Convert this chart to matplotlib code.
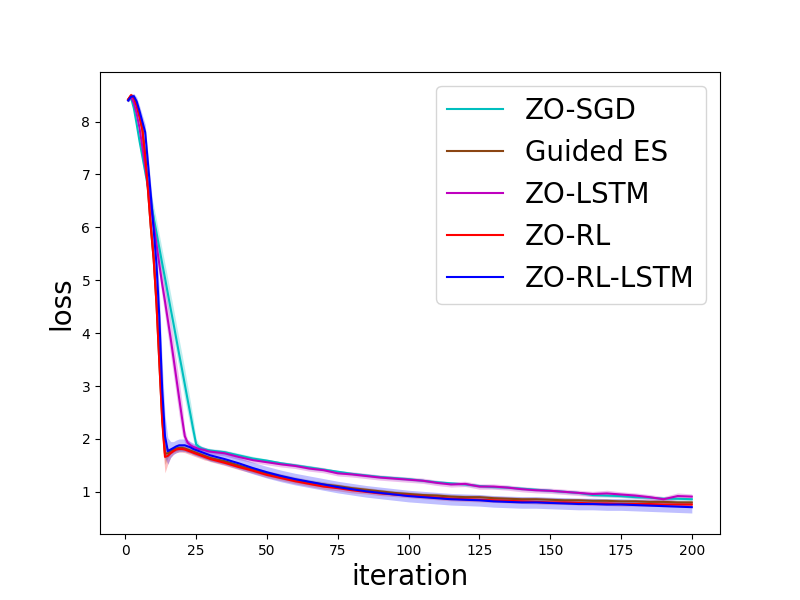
import matplotlib
matplotlib.use("Agg")
import matplotlib.pyplot as plt

# iteration grid: every step during the drop, every 5 afterwards
iters = list(range(1, 31)) + list(range(35, 201, 5))

zo_sgd = [8.40, 8.45, 8.25, 7.95, 7.63, 7.34, 7.05, 6.76, 6.47, 6.18,
          5.90, 5.61, 5.32, 5.04, 4.75, 4.46, 4.18, 3.89, 3.60, 3.32,
          3.03, 2.74, 2.46, 2.17, 1.90, 1.85, 1.82, 1.80, 1.79, 1.78,
          1.75, 1.69, 1.63, 1.59, 1.54, 1.50, 1.46, 1.42, 1.38, 1.34,
          1.31, 1.28, 1.26, 1.24, 1.21, 1.18, 1.16, 1.14, 1.11, 1.09,
          1.08, 1.06, 1.04, 1.02, 1.00, 0.98, 0.94, 0.93, 0.92, 0.90,
          0.89, 0.87, 0.87, 0.86]
zo_sgd_std = [0.03, 0.03, 0.05, 0.08, 0.10, 0.12, 0.15, 0.18, 0.20, 0.22,
              0.24, 0.25, 0.26, 0.27, 0.28, 0.28, 0.28, 0.28, 0.28, 0.28,
              0.28, 0.26, 0.24, 0.20, 0.10, 0.05, 0.04, 0.04, 0.04, 0.04,
              0.04, 0.04, 0.04, 0.03, 0.03, 0.03, 0.04, 0.03, 0.03, 0.03,
              0.03, 0.03, 0.03, 0.03, 0.03, 0.03, 0.03, 0.03, 0.03, 0.03,
              0.03, 0.03, 0.03, 0.03, 0.03, 0.03, 0.03, 0.03, 0.03, 0.03,
              0.03, 0.03, 0.03, 0.03]

guided_es = [8.42, 8.49, 8.45, 8.30, 8.10, 7.85, 7.35, 6.70, 6.00, 5.40,
             4.55, 3.45, 2.40, 1.72, 1.73, 1.77, 1.80, 1.82, 1.83, 1.83,
             1.82, 1.80, 1.78, 1.76, 1.74, 1.72, 1.70, 1.68, 1.66, 1.64,
             1.58, 1.50, 1.42, 1.35, 1.29, 1.23, 1.18, 1.14, 1.11, 1.07,
             1.04, 1.01, 0.98, 0.96, 0.94, 0.93, 0.91, 0.90, 0.90, 0.88,
             0.87, 0.86, 0.86, 0.85, 0.84, 0.84, 0.83, 0.83, 0.82, 0.82,
             0.81, 0.81, 0.80, 0.80]
guided_es_std = [0.03, 0.04, 0.05, 0.08, 0.10, 0.12, 0.15, 0.18, 0.20, 0.25,
                 0.30, 0.30, 0.30, 0.20, 0.08, 0.05, 0.05, 0.05, 0.05, 0.05,
                 0.05, 0.05, 0.05, 0.05, 0.05, 0.05, 0.05, 0.05, 0.05, 0.05,
                 0.05, 0.05, 0.05, 0.05, 0.05, 0.05, 0.05, 0.05, 0.04, 0.04,
                 0.04, 0.04, 0.04, 0.04, 0.04, 0.04, 0.04, 0.04, 0.04, 0.04,
                 0.04, 0.04, 0.04, 0.04, 0.04, 0.04, 0.04, 0.04, 0.04, 0.04,
                 0.04, 0.04, 0.04, 0.04]

zo_lstm = [8.40, 8.47, 8.35, 8.15, 7.88, 7.52, 7.15, 6.78, 6.41, 6.05,
           5.68, 5.30, 4.93, 4.60, 4.25, 3.90, 3.53, 3.15, 2.77, 2.40,
           2.05, 1.93, 1.88, 1.85, 1.83, 1.81, 1.80, 1.79, 1.77, 1.76,
           1.73, 1.66, 1.60, 1.56, 1.52, 1.49, 1.44, 1.41, 1.35, 1.33,
           1.30, 1.27, 1.25, 1.23, 1.21, 1.17, 1.14, 1.15, 1.10, 1.10,
           1.08, 1.05, 1.03, 1.02, 1.00, 0.98, 0.96, 0.97, 0.95, 0.93,
           0.90, 0.86, 0.92, 0.91]
zo_lstm_std = [0.03, 0.03, 0.05, 0.08, 0.10, 0.12, 0.14, 0.15, 0.16, 0.18,
               0.20, 0.22, 0.25, 0.28, 0.30, 0.32, 0.33, 0.33, 0.33, 0.30,
               0.12, 0.06, 0.05, 0.05, 0.05, 0.05, 0.05, 0.05, 0.05, 0.05,
               0.05, 0.05, 0.05, 0.05, 0.05, 0.05, 0.05, 0.05, 0.05, 0.05,
               0.05, 0.05, 0.05, 0.05, 0.05, 0.05, 0.05, 0.05, 0.05, 0.05,
               0.05, 0.05, 0.05, 0.05, 0.05, 0.05, 0.05, 0.06, 0.05, 0.05,
               0.05, 0.05, 0.06, 0.05]

zo_rl = [8.42, 8.50, 8.45, 8.30, 8.10, 7.85, 7.35, 6.70, 6.00, 5.40,
         4.55, 3.45, 2.35, 1.66, 1.68, 1.73, 1.77, 1.80, 1.81, 1.81,
         1.80, 1.78, 1.76, 1.74, 1.72, 1.70, 1.68, 1.66, 1.64, 1.62,
         1.55, 1.47, 1.40, 1.32, 1.26, 1.20, 1.15, 1.10, 1.07, 1.03,
         1.00, 0.97, 0.95, 0.93, 0.91, 0.89, 0.87, 0.86, 0.85, 0.84,
         0.83, 0.82, 0.81, 0.80, 0.80, 0.79, 0.78, 0.78, 0.77, 0.77,
         0.77, 0.76, 0.76, 0.76]
zo_rl_std = [0.03, 0.04, 0.05, 0.08, 0.10, 0.12, 0.15, 0.18, 0.20, 0.30,
             0.35, 0.40, 0.40, 0.30, 0.15, 0.08, 0.06, 0.06, 0.06, 0.06,
             0.06, 0.06, 0.06, 0.06, 0.06, 0.06, 0.06, 0.06, 0.05, 0.05,
             0.05, 0.05, 0.05, 0.05, 0.05, 0.05, 0.05, 0.05, 0.05, 0.05,
             0.04, 0.04, 0.04, 0.04, 0.04, 0.04, 0.04, 0.04, 0.04, 0.04,
             0.04, 0.04, 0.04, 0.04, 0.04, 0.04, 0.04, 0.04, 0.04, 0.04,
             0.04, 0.04, 0.04, 0.04]

zo_rl_lstm = [8.40, 8.47, 8.48, 8.38, 8.20, 8.00, 7.80, 7.20, 6.60, 5.95,
              5.30, 4.30, 2.95, 2.05, 1.77, 1.80, 1.83, 1.86, 1.88, 1.88,
              1.88, 1.86, 1.84, 1.81, 1.79, 1.77, 1.75, 1.73, 1.71, 1.69,
              1.62, 1.54, 1.45, 1.37, 1.30, 1.24, 1.19, 1.14, 1.09, 1.05,
              1.01, 0.98, 0.95, 0.92, 0.90, 0.88, 0.86, 0.85, 0.84, 0.82,
              0.81, 0.80, 0.80, 0.79, 0.78, 0.77, 0.77, 0.76, 0.76, 0.75,
              0.74, 0.73, 0.72, 0.71]
zo_rl_lstm_std = [0.03, 0.04, 0.05, 0.08, 0.10, 0.12, 0.15, 0.18, 0.20, 0.30,
                  0.40, 0.50, 0.50, 0.40, 0.25, 0.15, 0.12, 0.12, 0.12, 0.12,
                  0.12, 0.12, 0.11, 0.11, 0.11, 0.11, 0.11, 0.11, 0.11, 0.11,
                  0.11, 0.11, 0.11, 0.11, 0.11, 0.11, 0.11, 0.11, 0.11, 0.11,
                  0.11, 0.11, 0.11, 0.11, 0.11, 0.11, 0.11, 0.11, 0.11, 0.11,
                  0.11, 0.11, 0.11, 0.11, 0.11, 0.11, 0.11, 0.11, 0.11, 0.11,
                  0.11, 0.11, 0.11, 0.11]

series = [
    ("ZO-SGD", zo_sgd, zo_sgd_std, "c"),
    ("Guided ES", guided_es, guided_es_std, "saddlebrown"),
    ("ZO-LSTM", zo_lstm, zo_lstm_std, "m"),
    ("ZO-RL", zo_rl, zo_rl_std, "r"),
    ("ZO-RL-LSTM", zo_rl_lstm, zo_rl_lstm_std, "b"),
]

fig, ax = plt.subplots(figsize=(8, 6), dpi=100)

for label, mean, std, col in series:
    lo = [m - s for m, s in zip(mean, std)]
    hi = [m + s for m, s in zip(mean, std)]
    ax.fill_between(iters, lo, hi, color=col, alpha=0.25, lw=0)
    ax.plot(iters, mean, color=col, lw=1.5, label=label)

ax.set_xlabel("iteration", fontsize=20)
ax.set_ylabel("loss", fontsize=20)
ax.legend(loc="upper right", fontsize=20)

fig.savefig("out.png", dpi=100)
